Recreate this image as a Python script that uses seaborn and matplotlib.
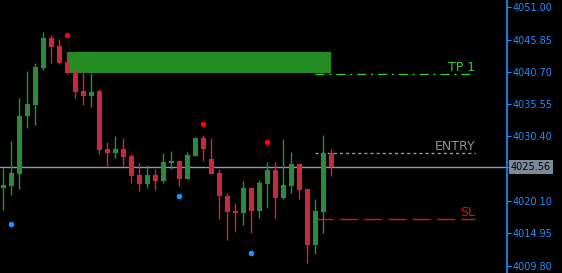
import numpy as np
import matplotlib
matplotlib.use("Agg")
import matplotlib.pyplot as plt
import matplotlib.transforms as mtransforms
import seaborn as sns

# candle data
open_ = [4022.19, 4022.51, 4024.42, 4033.67, 4035.42, 4041.32, 4046.11, 4044.83, 4042.28, 4040.68,
         4037.66, 4036.86, 4037.66, 4028.41, 4027.77, 4028.41, 4027.29, 4024.26, 4022.83, 4024.26,
         4023.31, 4026.18, 4026.49, 4023.62, 4027.29, 4030.16, 4026.81, 4024.58, 4020.91, 4018.52,
         4018.20, 4022.19, 4018.52, 4022.83, 4025.06, 4020.60, 4022.51, 4026.02, 4022.03, 4013.10,
         4018.36, 4027.77]
high = [4025.38, 4029.68, 4036.54, 4040.84, 4042.12, 4047.06, 4046.58, 4045.95, 4043.87, 4041.16,
        4041.16, 4040.52, 4037.97, 4029.52, 4030.48, 4030.16, 4027.61, 4026.18, 4025.86, 4025.22,
        4027.77, 4028.09, 4026.49, 4027.93, 4030.32, 4030.64, 4030.16, 4025.22, 4021.39, 4019.80,
        4023.31, 4022.19, 4023.46, 4026.33, 4026.33, 4030.00, 4027.93, 4026.02, 4022.03, 4020.44,
        4030.64, 4028.41]
low = [4018.68, 4021.07, 4022.03, 4031.76, 4032.23, 4041.00, 4042.12, 4041.96, 4040.37, 4036.54,
       4035.42, 4035.10, 4027.61, 4025.54, 4026.97, 4025.70, 4022.99, 4021.71, 4022.19, 4021.87,
       4022.99, 4025.22, 4022.51, 4023.62, 4027.29, 4026.49, 4024.42, 4017.25, 4013.90, 4015.33,
       4016.29, 4015.01, 4017.41, 4019.00, 4017.41, 4020.44, 4021.39, 4020.44, 4010.23, 4011.67,
       4015.01, 4024.10]
close = [4022.67, 4024.58, 4033.67, 4035.58, 4041.48, 4046.11, 4044.67, 4042.12, 4040.52, 4037.50,
         4036.86, 4037.50, 4028.25, 4027.77, 4028.41, 4027.13, 4024.10, 4022.83, 4024.26, 4023.31,
         4026.33, 4026.49, 4023.62, 4027.45, 4030.16, 4028.41, 4024.42, 4020.91, 4018.36, 4018.20,
         4022.19, 4018.52, 4022.99, 4025.06, 4020.60, 4022.67, 4026.02, 4021.87, 4013.10, 4018.52,
         4027.77, 4025.56]

# fractal-style markers
up_idx = [8, 25, 33]
up_val = [4046.53, 4032.35, 4029.48]
down_idx = [1, 22, 31]
down_val = [4016.40, 4020.87, 4011.78]

# zone and trade levels
zone_x = [8, 41]
zone_low, zone_high = 4040.52, 4043.87
levels = ["TP 1", "ENTRY", "SL"]
level_val = [4040.37, 4027.72, 4017.20]
level_x = [39, 59]
last_price = 4025.56

ticks = [4051.00, 4045.85, 4040.70, 4035.55, 4030.40, 4020.10, 4014.95, 4009.80]

sns.set_style("dark")
plt.rcParams['font.family'] = ['DejaVu Sans']

fig = plt.figure(figsize=(5.62, 2.73), dpi=100, facecolor="black")
ax = fig.add_axes([0, 0, 507 / 562, 1])
ax.set_facecolor("black")

green = "#2e8b3e"
red = "#c8283c"

x = np.arange(len(open_))
o = np.array(open_)
c = np.array(close)
cols = [green if cc >= oo else red for oo, cc in zip(o, c)]

# zone
ax.fill_between(zone_x, zone_low, zone_high, color="#228b22", lw=0, zorder=1)

# current price line
ax.axhline(last_price, color="#8c9bb0", lw=1.0, zorder=2)

# candles
ax.vlines(x, low, high, colors=cols, lw=1.0, zorder=3)
ax.bar(x, np.maximum(np.abs(c - o), 0.2), bottom=np.minimum(o, c), width=0.62,
       color=cols, lw=0, zorder=4)

sns.scatterplot(x=up_idx, y=up_val, color="#ff0000", s=16, linewidth=0, ax=ax, zorder=5)
sns.scatterplot(x=down_idx, y=down_val, color="#1e90ff", s=16, linewidth=0, ax=ax, zorder=5)

# trade levels
styles = [(0, (6.5, 3.5, 1.5, 3.5)), (0, (2.2, 2.2)), (0, (13, 4.5))]
lcolors = ["#32cd32", "#9a9a9a", "#e01010"]
tcolors = ["#32cd32", "#8a968a", "#e01010"]
for name, val, ls, lc, tc in zip(levels, level_val, styles, lcolors, tcolors):
    ax.plot(level_x, [val, val], color=lc, lw=1.0, linestyle=ls, zorder=3)
    ax.annotate(name, (level_x[1], val), xytext=(0, 2.2), textcoords="offset points",
                ha="right", va="baseline", color=tc, fontsize=9)

ax.set_xlim(-0.41, 62.96)
ax.set_ylim(4008.64, 4052.16)

for s in ["left", "top", "bottom"]:
    ax.spines[s].set_visible(False)
ax.spines["right"].set_color("#1e90ff")
ax.spines["right"].set_linewidth(1.2)
ax.grid(False)
ax.set_xticks([])
ax.yaxis.tick_right()
ax.set_yticks(ticks + [last_price])
ax.set_yticklabels([f"{t:.2f}" for t in ticks] + [""])
ax.tick_params(axis="y", colors="#1e90ff", length=3, width=0.9, pad=1, labelsize=7)

trans = mtransforms.blended_transform_factory(ax.transAxes, ax.transData)
ax.text(1.008, last_price, f"{last_price:.2f}", transform=trans, ha="left", va="center",
        fontsize=7, color="black", clip_on=False,
        bbox=dict(facecolor="#7b8a99", edgecolor="none", pad=1.2))

fig.savefig("out.png", dpi=100, facecolor="black")
